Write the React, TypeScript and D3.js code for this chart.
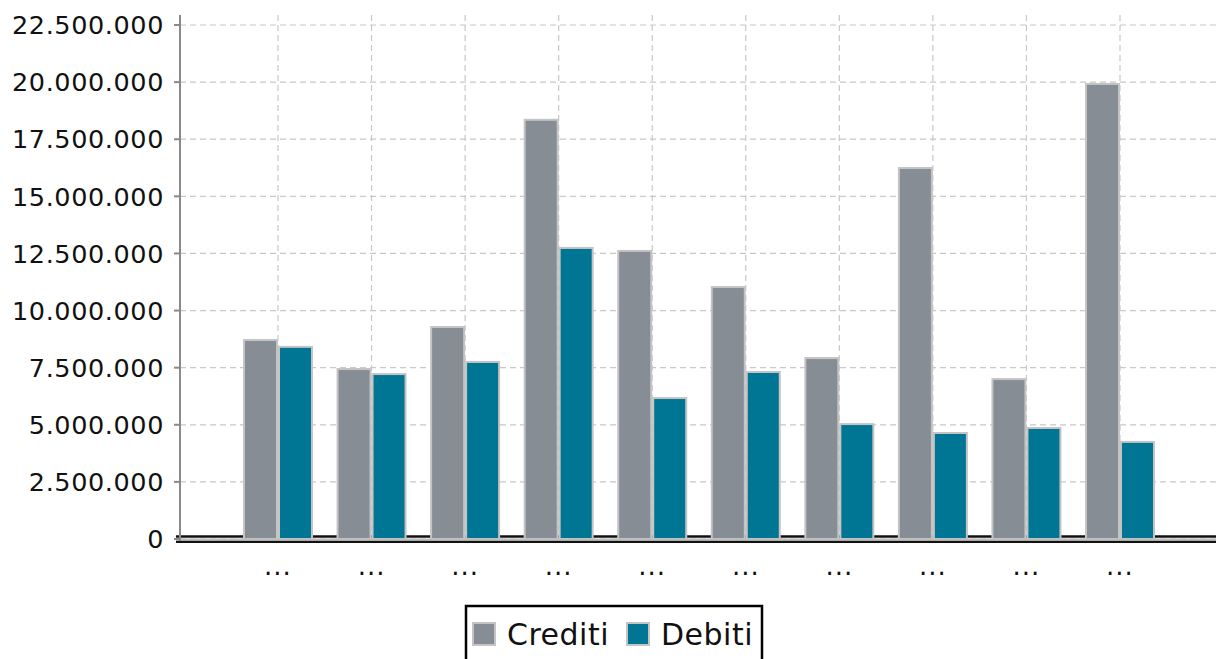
import React from "react";
import * as d3 from "d3";

const categories = ["...", "...", "...", "...", "...", "...", "...", "...", "...", "..."];
const seriesNames = ["Crediti", "Debiti"];
const crediti = [8710000, 7440000, 9280000, 18350000, 12610000, 11030000, 7920000, 16240000, 7000000, 19920000];
const debiti = [8410000, 7220000, 7750000, 12740000, 6170000, 7310000, 5030000, 4640000, 4860000, 4250000];
const yTicks = [0, 2500000, 5000000, 7500000, 10000000, 12500000, 15000000, 17500000, 20000000, 22500000];
const colors = ["#878d94", "#007594"];

const W = 1216;
const H = 659;
const FONT = "DejaVu Sans, sans-serif";

export default function App() {
  const x0 = 180;
  const y = d3.scaleLinear().domain([0, 22500000]).range([539, 25]);
  const idx = categories.map((_, i) => String(i));
  const x = d3.scalePoint<string>().domain(idx).range([278, 1120]);
  const xs = d3.scaleBand<string>().domain(seriesNames).range([-35, 35]).padding(0);
  const fmt = (v: number) => d3.format(",")(v).replace(/,/g, ".");
  const data = [crediti, debiti];

  return (
    <svg width={W} height={H} style={{ position: "absolute", left: 0, top: 0, background: "#fff" }}>
      {yTicks.map((t) => (
        <line key={"hg" + t} x1={x0} x2={W} y1={y(t)} y2={y(t)} stroke="#c8c8c8" strokeWidth={1.2} strokeDasharray="6,4" />
      ))}
      {idx.map((k) => (
        <line key={"vg" + k} x1={x(k)!} x2={x(k)!} y1={15} y2={539} stroke="#c8c8c8" strokeWidth={1.2} strokeDasharray="6,4" />
      ))}
      <line x1={176} x2={W} y1={536.5} y2={536.5} stroke="#111" strokeWidth={2.5} />
      {idx.map((k, i) =>
        seriesNames.map((s, j) => {
          const v = data[j][i];
          const bx = x(k)! + xs(s)!;
          return (
            <rect
              key={k + s}
              x={bx + 1}
              y={y(v)}
              width={xs.bandwidth() - 2}
              height={y(0) - y(v)}
              fill={colors[j]}
              stroke="#c4c4c4"
              strokeWidth={2}
            />
          );
        })
      )}
      <line x1={176} x2={W} y1={539.5} y2={539.5} stroke="#bdbdbd" strokeWidth={2} />
      <line x1={176} x2={W} y1={541.8} y2={541.8} stroke="#111" strokeWidth={2.2} />
      <line x1={x0} x2={x0} y1={15} y2={541} stroke="#8a8a8a" strokeWidth={2} />
      {yTicks.map((t) => (
        <g key={"yt" + t}>
          <line x1={174} x2={x0} y1={y(t)} y2={y(t)} stroke="#8a8a8a" strokeWidth={2} />
          <text x={164} y={y(t)} dy="0.36em" textAnchor="end" fontFamily={FONT} fontSize={25.5} letterSpacing={0.6} fill="#111">
            {fmt(t)}
          </text>
        </g>
      ))}
      {idx.map((k, i) => (
        <text key={"xl" + k} x={x(k)!} y={575} textAnchor="middle" fontFamily={FONT} fontSize={26} letterSpacing={1} fill="#111">
          {categories[i]}
        </text>
      ))}
      <rect x={466} y={606} width={296} height={60} fill="#fff" stroke="#000" strokeWidth={2.5} />
      {seriesNames.map((s, j) => {
        const lx = [473, 627][j];
        return (
          <g key={"lg" + s}>
            <rect x={lx} y={623} width={22} height={22} fill={colors[j]} stroke="#c4c4c4" strokeWidth={2} />
            <text x={lx + 34} y={645} fontFamily={FONT} fontSize={30} letterSpacing={0.5} fill="#111">
              {s}
            </text>
          </g>
        );
      })}
    </svg>
  );
}
